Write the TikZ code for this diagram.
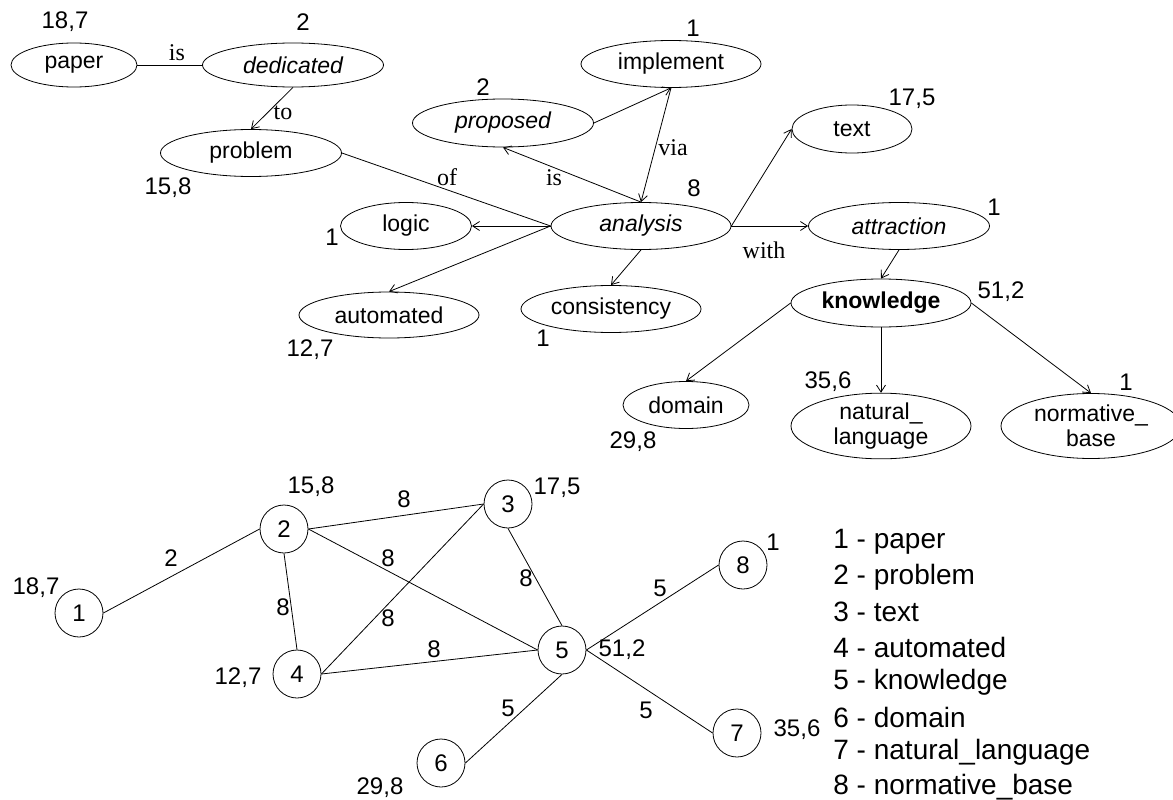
\documentclass[tikz,border=0pt]{standalone}
\usepackage{fontspec}
\setmainfont{Liberation Sans}
\newfontfamily\relfont{Liberation Serif}
\usetikzlibrary{shapes.geometric,arrows.meta}

\begin{document}
\begin{tikzpicture}[x=1pt,y=-1pt,line width=0.8pt,
  concept/.style={draw, ellipse, inner sep=0pt, align=center,
    font=\fontsize{23}{25}\selectfont},
  vertex/.style={draw, circle, minimum size=48pt, inner sep=0pt,
    font=\fontsize{24}{24}\selectfont},
  weight/.style={inner sep=0pt, font=\fontsize{24}{24}\selectfont},
  relation/.style={inner sep=0pt, font=\relfont\fontsize{24}{24}\selectfont},
  legendline/.style={inner sep=0pt, anchor=west, font=\fontsize{28}{28}\selectfont},
  arc/.style={-{Straight Barb[length=7pt,width=9pt]}},
]
\useasboundingbox (0,0) rectangle (1173,800);

% ---------- semantic network ----------
\node[concept, minimum width=126pt, minimum height=44pt] (paper) at (74,65) {paper};
\node[concept, minimum width=181pt, minimum height=44pt] (dedicated) at (293,65) {\itshape dedicated};
\node[concept, minimum width=181pt, minimum height=47pt] (problem) at (251,153) {problem};
\node[concept, minimum width=180pt, minimum height=47pt] (implement) at (671,64) {implement};
\node[concept, minimum width=181pt, minimum height=48pt] (proposed) at (503,123) {\itshape proposed};
\node[concept, minimum width=120pt, minimum height=48pt] (text) at (852,129) {text};
\node[concept, minimum width=180pt, minimum height=47pt] (analysis) at (641,226) {\itshape analysis};
\node[concept, minimum width=131pt, minimum height=47pt] (logic) at (406,226) {logic};
\node[concept, minimum width=180pt, minimum height=46pt] (automated) at (389,315) {automated};
\node[concept, minimum width=180pt, minimum height=47pt] (consistency) at (611,309) {consistency};
\node[concept, minimum width=181pt, minimum height=47pt] (attraction) at (899,226) {\itshape attraction};
\node[concept, minimum width=180pt, minimum height=48pt] (knowledge) at (881,303) {\bfseries knowledge};
\node[concept, minimum width=126pt, minimum height=47pt] (domain) at (686,405) {domain};
\node[concept, minimum width=180pt, minimum height=65pt] (natural) at (881,426) {natural\_\\language};
\node[concept, minimum width=180pt, minimum height=65pt] (normative) at (1091,426) {normative\_\\base};

% weights of the concepts
\node[weight] (wpaper) at (65,22) {18,7};
\node[weight] (wdedicated) at (303,22) {2};
\node[weight] (wproblem) at (168,188) {15,8};
\node[weight] (wimplement) at (693,28) {1};
\node[weight] (wproposed) at (483,87) {2};
\node[weight] (wtext) at (912,99) {17,5};
\node[weight] (wanalysis) at (694,188) {8};
\node[weight] (wlogic) at (332,237) {1};
\node[weight] (wautomated) at (310,350) {12,7};
\node[weight] (wconsistency) at (543,338) {1};
\node[weight] (wattraction) at (994,207) {1};
\node[weight] (wknowledge) at (1001,292) {51,2};
\node[weight] (wdomain) at (633,442) {29,8};
\node[weight] (wnatural) at (828,382) {35,6};
\node[weight] (wnormative) at (1126,382) {1};

% relations
\draw (paper.east) -- (dedicated.west);
\draw[arc] (dedicated.south) -- (problem.north);
\draw (problem.east) -- (analysis.west);
\draw[arc] (analysis.west) -- (logic.east);
\draw[arc] (analysis.west) -- (automated.north);
\draw[arc] (analysis.north) -- (proposed.south);
\draw[arc] (implement.south) -- (analysis.north);
\draw[arc] (proposed.east) -- (implement.south);
\draw[arc] (analysis.south) -- (consistency.north);
\draw[arc] (analysis.east) -- (text.west);
\draw[arc] (analysis.east) -- (attraction.west);
\draw[arc] (attraction.south) -- (knowledge.north);
\draw[arc] (knowledge.west) -- (domain.north);
\draw[arc] (knowledge.south) -- (natural.north);
\draw[arc] (knowledge.east) -- (normative.north);

\node[relation] (ris) at (177,53) {is};
\node[relation] (rto) at (283,113) {to};
\node[relation] (rof) at (447,177) {of};
\node[relation] (rvia) at (673,148) {via};
\node[relation] (ris2) at (554,178) {is};
\node[relation] (rwith) at (764,250) {with};

% ---------- weighted graph ----------
\node[vertex] (v1) at (79,613) {1};
\node[vertex] (v2) at (284,529) {2};
\node[vertex] (v3) at (508,504) {3};
\node[vertex] (v4) at (297,674) {4};
\node[vertex] (v5) at (562,650) {5};
\node[vertex] (v6) at (441,763) {6};
\node[vertex] (v7) at (737,733) {7};
\node[vertex] (v8) at (743,565) {8};

\draw (v1.east) -- (v2.west);
\draw (v2.east) -- (v3.west);
\draw (v2.south) -- (v4.north);
\draw (v2.east) -- (v5.west);
\draw (v3.west) -- (v4.east);
\draw (v3.south) -- (v5.north);
\draw (v4.east) -- (v5.west);
\draw (v5.south) -- (v6.east);
\draw (v5.east) -- (v7.west);
\draw (v5.east) -- (v8.west);

\node[weight] (g1) at (36,588) {18,7};
\node[weight] (g2) at (311,487) {15,8};
\node[weight] (g3) at (557,488) {17,5};
\node[weight] (g4) at (238,678) {12,7};
\node[weight] (g5) at (622,650) {51,2};
\node[weight] (g6) at (380,788) {29,8};
\node[weight] (g7) at (797,730) {35,6};
\node[weight] (g8) at (773,542) {1};

\node[weight] (e12) at (171,558) {2};
\node[weight] (e23) at (404,499) {8};
\node[weight] (e25) at (388,558) {8};
\node[weight] (e24) at (283,607) {8};
\node[weight] (e34) at (388,618) {8};
\node[weight] (e45) at (434,649) {8};
\node[weight] (e35) at (526,578) {8};
\node[weight] (e56) at (508,708) {5};
\node[weight] (e58) at (660,588) {5};
\node[weight] (e57) at (646,710) {5};

% key to the vertex numbers
\foreach \k/\name in {1/paper, 2/problem, 3/text, 4/automated, 5/knowledge,
    6/domain, 7/natural\_language, 8/normative\_base}
  \node[legendline] (key\k) at (833,{542+35*(\k-1)}) {\k{} - \name};
\end{tikzpicture}
\end{document}
